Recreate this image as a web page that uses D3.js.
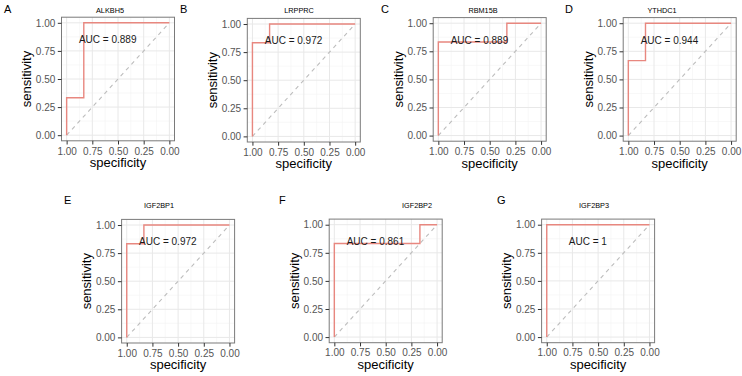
<!DOCTYPE html>
<html>
<head>
<meta charset="utf-8">
<script src="https://cdn.jsdelivr.net/npm/d3@7"></script>
<style>
  body { margin: 0; background: #fff; }
  svg { display: block; font-family: "Liberation Sans", Arial, sans-serif; }
</style>
</head>
<body>
<div id="chart"></div>
<script>
// ROC data, one entry per gene
const genes = ['ALKBH5', 'LRPPRC', 'RBM15B', 'YTHDC1', 'IGF2BP1', 'IGF2BP2', 'IGF2BP3'];
const letters = ['A', 'B', 'C', 'D', 'E', 'F', 'G'];
const aucs = ['0.889', '0.972', '0.889', '0.944', '0.972', '0.861', '1'];

const specificities = [
    [1, 1, 0.833, 0.833, 0],
    [1, 1, 0.833, 0.833, 0],
    [1, 1, 0.333, 0.333, 0],
    [1, 1, 0.833, 0.833, 0],
    [1, 1, 0.833, 0.833, 0],
    [1, 1, 0.167, 0.167, 0],
    [1, 1, 0]
];
const sensitivities = [
    [0, 0.333, 0.333, 1, 1],
    [0, 0.833, 0.833, 1, 1],
    [0, 0.833, 0.833, 1, 1],
    [0, 0.667, 0.667, 1, 1],
    [0, 0.833, 0.833, 1, 1],
    [0, 0.833, 0.833, 1, 1],
    [0, 1, 1]
];

const majorTicks = [0, 0.25, 0.5, 0.75, 1];
const minorTicks = [0.125, 0.375, 0.625, 0.875];
const aucPos = {spec: 0.6, sens: 0.85};

// panel layout (left/top of the plotting panel, title centre, letter pos)
const layout = [
    {left: 61.5, top: 17.2, titleX: 110, titleY: 12.5, letterX: 4, letterY: 13},
    {left: 247.3, top: 18.4, titleX: 299, titleY: 12.5, letterX: 180, letterY: 13},
    {left: 433.2, top: 17.6, titleX: 483, titleY: 12.5, letterX: 381, letterY: 13},
    {left: 623.2, top: 17.6, titleX: 662, titleY: 12.5, letterX: 565, letterY: 13},
    {left: 121.6, top: 219.4, titleX: 159, titleY: 207.5, letterX: 64, letterY: 204},
    {left: 329.2, top: 219.1, titleX: 417, titleY: 207.5, letterX: 279, letterY: 204},
    {left: 541.6, top: 219.1, titleX: 594, titleY: 207.5, letterX: 497, letterY: 204}
];
const panelW = 113, panelH = 123.6;

const svg = d3.select('#chart').append('svg')
    .attr('width', 742)
    .attr('height', 376);

genes.forEach((gene, i) => {
    const lay = layout[i];
    const x = d3.scaleLinear().domain([1.05, -0.05]).range([0, panelW]);
    const y = d3.scaleLinear().domain([-0.05, 1.05]).range([panelH, 0]);

    // panel letter + title
    svg.append('text')
        .attr('x', lay.letterX).attr('y', lay.letterY)
        .attr('font-size', 11).attr('fill', '#000')
        .text(letters[i]);
    svg.append('text')
        .attr('x', lay.titleX).attr('y', lay.titleY)
        .attr('text-anchor', 'middle')
        .attr('font-size', 7.3).attr('fill', '#000')
        .text(gene);

    const g = svg.append('g')
        .attr('transform', 'translate(' + lay.left + ',' + lay.top + ')');

    g.append('rect')
        .attr('width', panelW).attr('height', panelH)
        .attr('fill', '#fff');

    // grid
    g.selectAll('.minx').data(minorTicks).enter().append('line')
        .attr('x1', d => x(d)).attr('x2', d => x(d))
        .attr('y1', 0).attr('y2', panelH)
        .attr('stroke', '#f4f4f4').attr('stroke-width', 0.6);
    g.selectAll('.miny').data(minorTicks).enter().append('line')
        .attr('y1', d => y(d)).attr('y2', d => y(d))
        .attr('x1', 0).attr('x2', panelW)
        .attr('stroke', '#f4f4f4').attr('stroke-width', 0.6);
    g.selectAll('.majx').data(majorTicks).enter().append('line')
        .attr('x1', d => x(d)).attr('x2', d => x(d))
        .attr('y1', 0).attr('y2', panelH)
        .attr('stroke', '#e8e8e8').attr('stroke-width', 1);
    g.selectAll('.majy').data(majorTicks).enter().append('line')
        .attr('y1', d => y(d)).attr('y2', d => y(d))
        .attr('x1', 0).attr('x2', panelW)
        .attr('stroke', '#e8e8e8').attr('stroke-width', 1);

    // diagonal reference
    g.append('line')
        .attr('x1', x(1)).attr('y1', y(0))
        .attr('x2', x(0)).attr('y2', y(1))
        .attr('stroke', '#bdbdbd').attr('stroke-width', 1.1)
        .attr('stroke-dasharray', '4,4');

    // ROC curve
    const pts = specificities[i].map((s, k) => [s, sensitivities[i][k]]);
    g.append('path')
        .datum(pts)
        .attr('d', d3.line().x(d => x(d[0])).y(d => y(d[1])))
        .attr('fill', 'none')
        .attr('stroke', '#e8877f').attr('stroke-width', 1.4);

    g.append('text')
        .attr('x', x(aucPos.spec)).attr('y', y(aucPos.sens))
        .attr('dy', '0.35em')
        .attr('text-anchor', 'middle')
        .attr('font-size', 10).attr('fill', '#1a1a1a')
        .text('AUC = ' + aucs[i]);

    g.append('rect')
        .attr('width', panelW).attr('height', panelH)
        .attr('fill', 'none')
        .attr('stroke', '#7a7a7a').attr('stroke-width', 1);

    // axes
    const xAxis = g.append('g')
        .attr('transform', 'translate(0,' + panelH + ')')
        .call(d3.axisBottom(x).tickValues(majorTicks).tickFormat(d3.format('.2f'))
            .tickSizeOuter(0).tickSizeInner(3.7).tickPadding(3));
    const yAxis = g.append('g')
        .call(d3.axisLeft(y).tickValues(majorTicks).tickFormat(d3.format('.2f'))
            .tickSizeOuter(0).tickSizeInner(3.7).tickPadding(2.5));
    [xAxis, yAxis].forEach(a => {
        a.select('.domain').remove();
        a.selectAll('line').attr('stroke', '#333');
        a.selectAll('text')
            .attr('fill', '#555')
            .attr('font-size', 10)
            .attr('font-family', '"Liberation Sans", Arial, sans-serif');
    });

    // axis titles
    g.append('text')
        .attr('x', panelW / 2).attr('y', panelH + 26.5)
        .attr('text-anchor', 'middle')
        .attr('font-size', 13).attr('fill', '#000')
        .text('specificity');
    g.append('text')
        .attr('transform', 'translate(' + (-35) + ',' + (panelH / 2) + ') rotate(-90)')
        .attr('dy', '0.35em')
        .attr('text-anchor', 'middle')
        .attr('font-size', 13).attr('fill', '#000')
        .text('sensitivity');
});
</script>
</body>
</html>
